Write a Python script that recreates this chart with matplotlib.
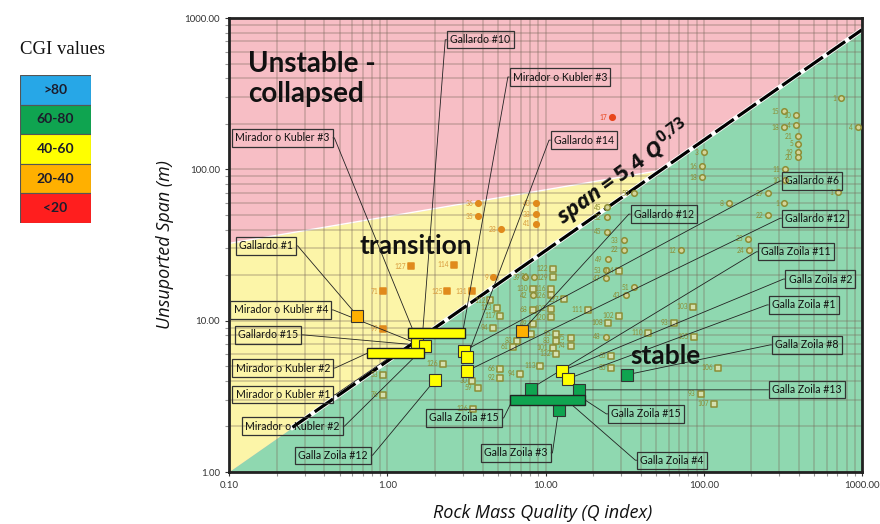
import numpy as np
import matplotlib
matplotlib.use("Agg")
import matplotlib.pyplot as plt
from matplotlib.patches import Rectangle
from matplotlib.ticker import FixedLocator, FormatStrFormatter

plt.rcParams['font.family'] = ['Lato', 'DejaVu Sans']
plt.rcParams['mathtext.fontset'] = 'custom'
plt.rcParams['mathtext.it'] = 'Open Sans:italic:bold'
plt.rcParams['mathtext.rm'] = 'Open Sans:bold'

# CGI classes
cgi_labels = [">80", "60-80", "40-60", "20-40", "<20"]
cgi_colors = ["#27a7e7", "#0fa450", "#ffff00", "#ffb000", "#ff1e1e"]
cgi_color = dict(zip(cgi_labels, cgi_colors))

# stability limits: span = 5.4 Q^0.73 and the transition / collapse limit
span_coef, span_exp = 5.4, 0.73
trans_coef, trans_exp = 48.7, 0.177

# case history database: Q, span (m), case number
trans_circ_q = [3.77, 3.77, 5.27, 8.65, 8.65, 8.65, 4.69]
trans_circ_s = [59.6, 48.9, 40.1, 59.6, 50.4, 43.8, 19.3]
trans_circ_id = [36, 35, 28, 40, 38, 41, 9]

trans_sq_q = [1.42, 2.65, 0.944, 2.40, 3.45, 0.944]
trans_sq_s = [22.8, 23.5, 15.6, 15.6, 15.6, 8.85]
trans_sq_id = [127, 114, 71, 125, 131, 99]

stab_circ_q = [24.3, 36.1, 24.3, 24.3, 100, 97, 97, 321, 382, 321, 382, 393, 393,
               393, 393, 326, 326, 254, 144, 321, 254, 736, 944, 705, 190, 193,
               71.5, 31.2, 31.2, 24.7, 24.1, 24.1, 36.1, 32.1, 24.1, 8.40, 8.28,
               7.46]
stab_circ_s = [56.0, 69.3, 48.1, 38.8, 130, 105, 88.5, 242, 228, 190, 196, 166,
               148, 130, 120, 100, 84.5, 69.3, 59.6, 59.6, 49.6, 295, 190, 70.5,
               34.9, 29.1, 29.1, 33.9, 29.5, 25.4, 21.6, 19.0, 16.6, 14.7, 7.84,
               19.5, 14.7, 19.3]
stab_circ_id = [45, 50, 32, 45, 3, 16, 18, 15, 10, 18, 4, 21, 5, 19, 20, 11, 10,
                29, 8, 1, 22, 1, 4, 1, 25, 24, 12, 33, 22, 49, 53, 47, 51, 43,
                48, 30, 42, 39]

stab_sq_q = [29.0, 85.1, 29.0, 24.7, 64.6, 44.3, 86.5, 25.8, 25.8, 123, 95.7, 116,
             18.5, 11.2, 11.2, 8.28, 10.8, 10.8, 13.0, 10.8, 8.28, 10.8, 8.28,
             11.6, 14.4, 8.04, 6.65, 11.6, 14.4, 11.2, 11.6, 9.29, 6.95, 4.96,
             5.19, 4.69, 6.27, 5.19, 5.19, 2.26, 3.45, 3.72, 0.944, 0.944, 3.50,
             4.49]
stab_sq_s = [21.4, 12.4, 10.8, 9.7, 9.7, 8.34, 7.84, 5.86, 4.89, 4.89, 3.29, 2.82,
             11.8, 22.1, 19.3, 16.3, 16.3, 14.7, 13.8, 12.0, 11.8, 10.5, 9.55,
             8.2, 7.71, 8.2, 7.38, 7.38, 6.82, 6.62, 6.04, 5.03, 4.46, 12.2, 10.8,
             9.0, 6.73, 4.81, 4.2, 5.19, 4.01, 3.6, 4.39, 3.24, 2.61, 13.6]
stab_sq_id = [104, 103, 102, 108, 93, 110, 105, 65, 85, 106, 93, 107, 111, 122,
              129, 130, 116, 126, 137, 102, 68, 120, 49, 95, 75, 25, 83, 83, 74,
              101, 132, 113, 94, 113, 117, 94, 61, 66, 92, 126, 30, 59, 53, 76,
              126, 112]

red_q, red_s, red_id = [26.2], [221], [17]

# highlighted stopes (single Q value)
hl_q = [0.646, 1.55, 1.74, 3.07, 3.21, 3.21, 2.01, 7.15, 12.8, 13.8, 32.6, 8.04, 16.2, 12.1]
hl_s = [10.8, 7.05, 6.83, 6.33, 5.78, 4.67, 4.07, 8.59, 4.67, 4.13, 4.39, 3.55, 3.49, 2.57]
hl_cgi = ["20-40", "40-60", "40-60", "40-60", "40-60", "40-60", "40-60", "20-40",
          "40-60", "40-60", "60-80", "60-80", "60-80", "60-80"]

# highlighted stopes with a range of Q values
bar_q0 = [1.36, 0.75, 6.0]
bar_q1 = [3.12, 1.71, 17.7]
bar_s = [8.3, 6.1, 3.0]
bar_cgi = ["40-60", "40-60", "60-80"]

# callouts: name, target mark, label position (axes fraction), side of the leader
callouts = [
    ("Mirador o Kubler #3", ("bar", 0, 0.10), (0.084, 0.736), "R"),
    ("Gallardo #10", ("bar", 0, 0.25), (0.397, 0.952), "L"),
    ("Mirador o Kubler #3", ("bar", 0, 0.95), (0.523, 0.870), "L"),
    ("Gallardo #14", ("pt", 4), (0.561, 0.731), "L"),
    ("Gallardo #1", ("pt", 0), (0.058, 0.498), "R"),
    ("Mirador o Kubler #4", ("pt", 1), (0.082, 0.357), "R"),
    ("Gallardo #15", ("pt", 2), (0.062, 0.302), "R"),
    ("Mirador o Kubler #2", ("bar", 1, 0.0), (0.085, 0.229), "R"),
    ("Mirador o Kubler #1", ("bar", 1, 0.5), (0.085, 0.170), "R"),
    ("Mirador o Kubler #2", ("bar", 1, 0.9), (0.100, 0.101), "R"),
    ("Galla Zoila #12", ("pt", 6), (0.164, 0.037), "R"),
    ("Gallardo #6", ("pt", 3), (0.921, 0.641), "L"),
    ("Gallardo #12", ("pt", 7), (0.687, 0.568), "L"),
    ("Gallardo #12", ("pt", 5), (0.926, 0.559), "L"),
    ("Galla Zoila #11", ("pt", 11), (0.896, 0.485), "L"),
    ("Galla Zoila #2", ("pt", 8), (0.934, 0.425), "L"),
    ("Galla Zoila #1", ("pt", 9), (0.908, 0.368), "L"),
    ("Galla Zoila #8", ("pt", 10), (0.913, 0.280), "L"),
    ("Galla Zoila #13", ("pt", 12), (0.913, 0.181), "L"),
    ("Galla Zoila #15", ("bar", 2, 0.03), (0.371, 0.119), "R"),
    ("Galla Zoila #15", ("bar", 2, 1.0), (0.659, 0.128), "L"),
    ("Galla Zoila #3", ("pt", 13), (0.453, 0.042), "R"),
    ("Galla Zoila #4", ("bar", 2, 0.75), (0.700, 0.026), "L"),
]

PINK, YELLOW, GREEN = "#f7bec5", "#fcf5a8", "#8fd8b0"
OLIVE = "#8d8d35"

fig = plt.figure(figsize=(8.8, 5.24), dpi=100)
ax = fig.add_axes([229 / 880, 52 / 524, 633 / 880, 454 / 524])
ax.set_xscale("log")
ax.set_yscale("log")
ax.set_xlim(0.1, 1000)
ax.set_ylim(1, 1000)
ax.set_facecolor(PINK)

# stability zones
q = np.logspace(-1, 3, 400)
span_line = span_coef * q ** span_exp
trans_line = trans_coef * q ** trans_exp
ax.fill_between(q, span_line, trans_line, where=trans_line > span_line,
                color=YELLOW, lw=0, zorder=0.1)
ax.fill_between(q, 0.5, span_line, color=GREEN, lw=0, zorder=0.1)
m = trans_line > span_line
ax.plot(q[m], trans_line[m], color="white", lw=1, zorder=0.2)

# span = 5.4 Q^0.73
ql = q[q >= 0.25]
ax.plot(ql, span_coef * ql ** span_exp, color="white", lw=3.5, zorder=2)
ax.plot(ql, span_coef * ql ** span_exp, color="black", lw=2.3,
        dashes=(7, 1.5), zorder=2.1)

ax.grid(which="both", color="#7a6a5c", alpha=0.32, lw=1.3)
ax.set_axisbelow(True)

# case histories
def numbered(qs, ss, ids, marker, fc, ec, tc):
    ax.scatter(qs, ss, marker=marker, s=16, facecolor=fc, edgecolor=ec,
               linewidth=1.1, zorder=3)
    for qq, sv, i in zip(qs, ss, ids):
        ax.annotate(str(i), (qq, sv), xytext=(-3.5, 0), textcoords="offset points",
                    ha="right", va="center", fontsize=4.8, color=tc, zorder=3)

numbered(trans_circ_q, trans_circ_s, trans_circ_id, "o", "#e08a1c", "#e08a1c", "#d89a3c")
numbered(trans_sq_q, trans_sq_s, trans_sq_id, "s", "#e08a1c", "#e08a1c", "#d89a3c")
numbered(stab_circ_q, stab_circ_s, stab_circ_id, "o", "#d5d59a", OLIVE, OLIVE)
numbered(stab_sq_q, stab_sq_s, stab_sq_id, "s", "#d5e0b0", OLIVE, OLIVE)
numbered(red_q, red_s, red_id, "o", "#e8451c", "#e8451c", "#e8451c")

# highlighted stopes
for qq, sv, c in zip(hl_q, hl_s, hl_cgi):
    ax.plot(qq, sv, marker="s", ms=8, mfc=cgi_color[c], mec="#333333", mew=0.8,
            zorder=8)
bar_h = 0.032
for q0, q1, sv, c in zip(bar_q0, bar_q1, bar_s, bar_cgi):
    ax.add_patch(Rectangle((q0, sv * 10 ** -bar_h), q1 - q0,
                           sv * (10 ** bar_h - 10 ** -bar_h),
                           fc=cgi_color[c], ec="#222222", lw=1.0, zorder=8))

for name, tgt, pos, side in callouts:
    if tgt[0] == "pt":
        xy = (hl_q[tgt[1]], hl_s[tgt[1]])
    else:
        k = tgt[1]
        lq = np.log10(bar_q0[k]) + tgt[2] * (np.log10(bar_q1[k]) - np.log10(bar_q0[k]))
        xy = (10 ** lq, bar_s[k])
    rel = (1, 0.5) if side == "R" else (0, 0.5)
    ang = 0 if side == "R" else 180
    ax.annotate(name, xy=xy, xycoords="data", xytext=pos, textcoords="axes fraction",
                ha="center", va="center", fontsize=7.6, color="#111111",
                bbox=dict(boxstyle="square,pad=0.3", fc="none", ec="#333333", lw=0.9),
                arrowprops=dict(arrowstyle="-", color="#222222", lw=0.6, relpos=rel,
                                shrinkA=0, shrinkB=0,
                                connectionstyle=f"arc,angleA={ang},armA=5,angleB=0,armB=0,rad=0"),
                zorder=6)

# zone names
ax.text(0.030, 0.928, "Unstable -\ncollapsed", transform=ax.transAxes, ha="left",
        va="top", fontsize=20, fontweight="bold", color="#111111", linespacing=1.2,
        zorder=5)
ax.text(0.295, 0.497, "transition", transform=ax.transAxes, ha="center", va="center",
        fontsize=19, fontweight="bold", color="#111111", zorder=5)
ax.text(0.689, 0.255, "stable", transform=ax.transAxes, ha="center", va="center",
        fontsize=19, fontweight="bold", color="#111111", zorder=5)

q_txt = 31.2
ax.text(q_txt, span_coef * q_txt ** span_exp * 1.44,
        r"$\mathit{span = 5{,}4\ Q^{0{,}73}}$", ha="center", va="center",
        rotation=36, rotation_mode="anchor", fontsize=16, color="#111111", zorder=5)

# axes
ax.xaxis.set_major_locator(FixedLocator([0.1, 1, 10, 100, 1000]))
ax.yaxis.set_major_locator(FixedLocator([1, 10, 100, 1000]))
ax.xaxis.set_major_formatter(FormatStrFormatter("%.2f"))
ax.yaxis.set_major_formatter(FormatStrFormatter("%.2f"))
ax.tick_params(which="both", labelsize=7, colors="#333333", length=3, width=0.8)
ax.tick_params(which="minor", length=3, color="#999999")
for sp in ax.spines.values():
    sp.set_linewidth(2)
    sp.set_color("#222222")

fig.text(543 / 880, 1 - 513 / 524, "Rock Mass Quality (Q index)", ha="center",
         va="center", fontsize=13, style="italic", family="Open Sans", color="#111111")
fig.text(165 / 880, 1 - 245 / 524, "Unsuported Span (m)", ha="center", va="center",
         rotation=90, fontsize=13, style="italic", family="Open Sans", color="#111111")

# CGI legend
fig.text(62 / 880, 1 - 50 / 524, "CGI values", ha="center", va="center",
         fontsize=13.5, family="Liberation Serif", color="#111111")
lax = fig.add_axes([20 / 880, 1 - 223 / 524, 71 / 880, 148 / 524])
ypos = np.arange(len(cgi_labels))[::-1]
lax.barh(ypos, [1] * len(cgi_labels), height=1, color=cgi_colors,
         edgecolor="#555555", linewidth=0.8)
for yy, lab in zip(ypos, cgi_labels):
    lax.text(0.5, yy, lab, ha="center", va="center", fontsize=10, fontweight="bold",
             color="#1c1c2c")
lax.set_xlim(0, 1)
lax.set_ylim(-0.5, len(cgi_labels) - 0.5)
lax.axis("off")

fig.savefig("out.png", dpi=100)
